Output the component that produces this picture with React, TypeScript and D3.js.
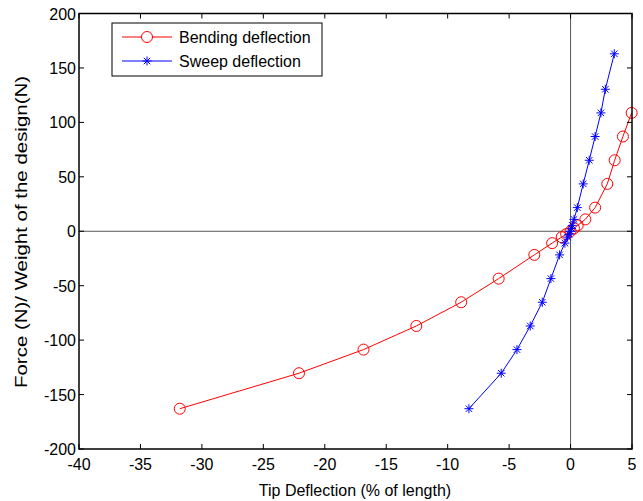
import React from "react";
import * as d3 from "d3";

// Force / weight levels (N) and tip deflections (% of length)
const bendingForce = [-163, -130.4, -108.7, -87, -65.2, -43.5, -21.7, -10.9, -5.4, -2.7, 0, 2.7, 5.4, 10.9, 21.7, 43.5, 65.2, 87, 108.7];
const bendingDefl = [-31.8, -22.1, -16.85, -12.55, -8.9, -5.85, -2.95, -1.5, -0.72, -0.36, 0, 0.28, 0.58, 1.2, 2.0, 2.99, 3.59, 4.26, 4.97];

const sweepForce = [-163, -130.4, -108.7, -87, -65.2, -43.5, -21.7, -10.9, -5.4, -2.7, 0, 2.7, 5.4, 10.9, 21.7, 43.5, 65.2, 87, 108.7, 130.4, 163];
const sweepDefl = [-8.27, -5.64, -4.36, -3.28, -2.3, -1.6, -0.89, -0.46, -0.24, -0.12, 0, 0.07, 0.14, 0.28, 0.55, 1.03, 1.52, 2.0, 2.47, 2.83, 3.56];

const xTicks = [-40, -35, -30, -25, -20, -15, -10, -5, 0, 5];
const yTicks = [-200, -150, -100, -50, 0, 50, 100, 150, 200];

const W = 643;
const H = 501;
const m = { left: 79, right: 632, top: 13.5, bottom: 449 };
const font = "'Liberation Sans', Arial, Helvetica, sans-serif";
const fs = 16;

const Star = ({ x, y, r, color }: { x: number; y: number; r: number; color: string }) => {
  const d = r * 0.72;
  return (
    <g stroke={color} strokeWidth={1}>
      <line x1={x - r} y1={y} x2={x + r} y2={y} />
      <line x1={x} y1={y - r} x2={x} y2={y + r} />
      <line x1={x - d} y1={y - d} x2={x + d} y2={y + d} />
      <line x1={x - d} y1={y + d} x2={x + d} y2={y - d} />
    </g>
  );
};

export default function App() {
  const x = d3.scaleLinear().domain([-40, 5]).range([m.left, m.right]);
  const y = d3.scaleLinear().domain([-200, 200]).range([m.bottom, m.top]);

  const bending = bendingDefl.map((d, i) => [d, bendingForce[i]] as [number, number]);
  const sweep = sweepDefl.map((d, i) => [d, sweepForce[i]] as [number, number]);
  const line = d3.line<[number, number]>().x((d) => x(d[0])).y((d) => y(d[1]));

  const tl = 5;

  return (
    <svg width={W} height={H} style={{ position: "absolute", left: 0, top: 0, background: "#fff" }} fontFamily={font}>
      <rect x={0} y={0} width={W} height={H} fill="#fff" />
      {/* zero lines */}
      <line x1={x(0)} x2={x(0)} y1={m.top} y2={m.bottom} stroke="#555" strokeWidth={1} />
      <line x1={m.left} x2={m.right} y1={y(0)} y2={y(0)} stroke="#555" strokeWidth={1} />

      {/* series */}
      <path d={line(bending) || ""} fill="none" stroke="#ff0000" strokeWidth={1} />
      {bending.map((d, i) => (
        <circle key={"b" + i} cx={x(d[0])} cy={y(d[1])} r={5.5} fill="none" stroke="#ff0000" strokeWidth={1} />
      ))}
      <path d={line(sweep) || ""} fill="none" stroke="#0000ff" strokeWidth={1} />
      {sweep.map((d, i) => (
        <Star key={"s" + i} x={x(d[0])} y={y(d[1])} r={4.5} color="#0000ff" />
      ))}

      {/* box and ticks */}
      <rect x={m.left} y={m.top} width={m.right - m.left} height={m.bottom - m.top} fill="none" stroke="#000" strokeWidth={1.5} />
      {xTicks.map((t) => (
        <g key={"xt" + t}>
          <line x1={x(t)} x2={x(t)} y1={m.bottom} y2={m.bottom - tl} stroke="#000" />
          <line x1={x(t)} x2={x(t)} y1={m.top} y2={m.top + tl} stroke="#000" />
          <text x={x(t)} y={m.bottom + 21} fontSize={fs} textAnchor="middle">{t}</text>
        </g>
      ))}
      {yTicks.map((t) => (
        <g key={"yt" + t}>
          <line x1={m.left} x2={m.left + tl} y1={y(t)} y2={y(t)} stroke="#000" />
          <line x1={m.right} x2={m.right - tl} y1={y(t)} y2={y(t)} stroke="#000" />
          <text x={m.left - 3} y={y(t) + 6} fontSize={fs} textAnchor="end">{t}</text>
        </g>
      ))}

      {/* axis titles */}
      <text x={355} y={496} fontSize={fs} textAnchor="middle">Tip Deflection (% of length)</text>
      <text
        transform={`translate(27,232) rotate(-90)`}
        fontSize={17}
        textAnchor="middle"
        textLength={312}
        lengthAdjust="spacingAndGlyphs"
      >
        Force (N)/ Weight of the design(N)
      </text>

      {/* legend */}
      <rect x={112} y={23} width={210} height={53} fill="#fff" stroke="#000" strokeWidth={1} />
      <line x1={122} x2={172} y1={37} y2={37} stroke="#ff0000" />
      <circle cx={147} cy={37} r={5.5} fill="#fff" stroke="#ff0000" />
      <text x={179} y={43} fontSize={fs}>Bending deflection</text>
      <line x1={122} x2={172} y1={61} y2={61} stroke="#0000ff" />
      <Star x={147} y={61} r={4.5} color="#0000ff" />
      <text x={179} y={67} fontSize={fs}>Sweep deflection</text>
    </svg>
  );
}
